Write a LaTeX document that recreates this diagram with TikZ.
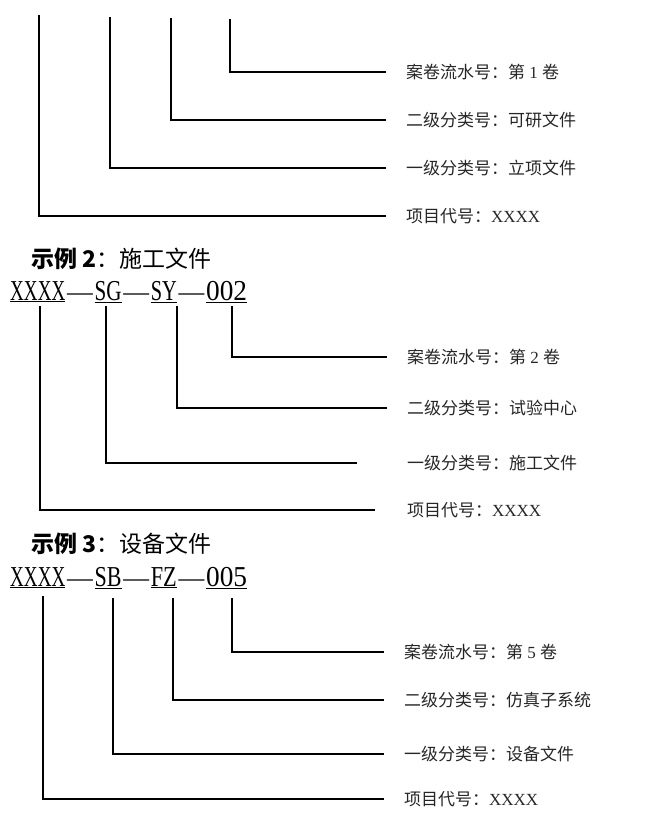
\documentclass[tikz,border=0pt]{standalone}
\usepackage{fontspec}
\setmainfont{Liberation Serif}
\newfontfamily\cjk{Noto Sans CJK SC}
\usepackage{graphicx}
\newcommand\seg[2]{\underline{\resizebox{#1}{1.12\height}{#2}}}
\newcommand\gap{\hspace{1.5pt}—\hspace{1.5pt}}
\tikzset{
	lab/.style={anchor=west, inner xsep=6mm, inner ysep=0pt, text=black!85, font=\fontsize{14.5}{16}\selectfont},
	head/.style={anchor=west, inner sep=0pt, font=\cjk\fontsize{19.6}{22}\selectfont},
	code/.style={anchor=base west, inner sep=0pt, font=\fontsize{22}{24}\selectfont},
	conn/.style={line width=1.5pt}
}
\begin{document}
\begin{tikzpicture}[x=0.03cm, y=-0.03cm]
		\useasboundingbox (0,0) rectangle (669,815);
		% example 1, cut off at the top
		\coordinate (t1a) at (39,15);
		\coordinate (t1b) at (110,17);
		\coordinate (t1c) at (171,18);
		\coordinate (t1d) at (230,19);
		\node[lab] (l1d) at (386,72) {{\cjk 案卷流水号：第} 1 {\cjk 卷}};
		\node[lab] (l1c) at (386,120) {\cjk 二级分类号：可研文件};
		\node[lab] (l1b) at (386,168) {\cjk 一级分类号：立项文件};
		\node[lab] (l1a) at (386,216) {{\cjk 项目代号：}XXXX};
		\draw[conn] (t1d) |- (l1d.west);
		\draw[conn] (t1c) |- (l1c.west);
		\draw[conn] (t1b) |- (l1b.west);
		\draw[conn] (t1a) |- (l1a.west);
		% example 2
		\node[head] (h2) at (31,259) {{\bfseries 示例 2}：施工文件};
		\node[code] (c2) at (10,300) {\seg{47pt}{XXXX}\gap\seg{23pt}{SG}\gap\seg{22.2pt}{SY}\gap\seg{35pt}{002}};
		\coordinate (t2a) at (40,306);
		\coordinate (t2b) at (106,306);
		\coordinate (t2c) at (177,306);
		\coordinate (t2d) at (232,306);
		\node[lab] (l2d) at (387,357) {{\cjk 案卷流水号：第} 2 {\cjk 卷}};
		\node[lab] (l2c) at (387,408) {\cjk 二级分类号：试验中心};
		\node[lab] (l2b) at (387,463) {\cjk 一级分类号：施工文件};
		\node[lab] (l2a) at (387,510) {{\cjk 项目代号：}XXXX};
		\draw[conn] (t2d) |- (l2d.west);
		\draw[conn] (t2c) |- (l2c.west);
		\draw[conn, shorten >=9mm] (t2b) |- (l2b.west);
		\draw[conn, shorten >=3.6mm] (t2a) |- (l2a.west);
		% example 3
		\node[head] (h3) at (31,544) {{\bfseries 示例 3}：设备文件};
		\node[code] (c3) at (10,586) {\seg{47pt}{XXXX}\gap\seg{23pt}{SB}\gap\seg{22.2pt}{FZ}\gap\seg{35pt}{005}};
		\coordinate (t3a) at (43,596);
		\coordinate (t3b) at (113,598);
		\coordinate (t3c) at (173,598);
		\coordinate (t3d) at (232,598);
		\node[lab] (l3d) at (384,652) {{\cjk 案卷流水号：第} 5 {\cjk 卷}};
		\node[lab] (l3c) at (384,700) {\cjk 二级分类号：仿真子系统};
		\node[lab] (l3b) at (384,754) {\cjk 一级分类号：设备文件};
		\node[lab] (l3a) at (384,799) {{\cjk 项目代号：}XXXX};
		\draw[conn] (t3d) |- (l3d.west);
		\draw[conn] (t3c) |- (l3c.west);
		\draw[conn] (t3b) |- (l3b.west);
		\draw[conn] (t3a) |- (l3a.west);
	\end{tikzpicture}
\end{document}
